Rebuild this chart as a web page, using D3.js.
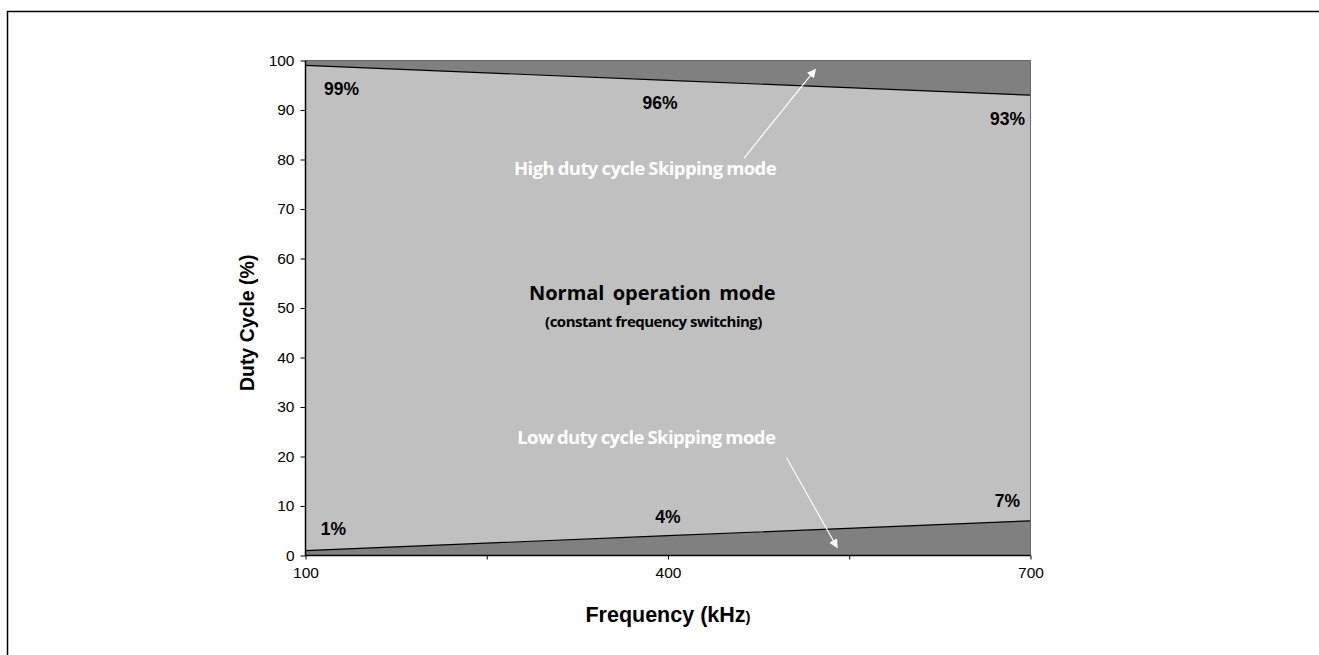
<!DOCTYPE html>
<html>
<head>
<meta charset="utf-8">
<script src="https://cdnjs.cloudflare.com/ajax/libs/d3/7.8.5/d3.min.js"></script>
<style>
body { margin: 0; background: #fff; }
svg { display: block; }
</style>
</head>
<body>
<div id="main"></div>
<script>
var frequency = [100, 400, 700];
var highLimit = [99, 96, 93];
var lowLimit = [1, 4, 7];
var highLabels = ['99%', '96%', '93%'];
var lowLabels = ['1%', '4%', '7%'];
var yTicks = [0, 10, 20, 30, 40, 50, 60, 70, 80, 90, 100];
var xTicks = [100, 250, 400, 550, 700];
var xTickLabels = {100: '100', 400: '400', 700: '700'};

var width = 1319, height = 655;
var margin = {top: 60.5, left: 305.5, right: 288.5, bottom: 99.5};
var pw = width - margin.left - margin.right,
    ph = height - margin.top - margin.bottom;

var svg = d3.select('#main').append('svg')
    .attr('width', width)
    .attr('height', height);

// outer frame (partly off the page)
svg.append('path')
    .attr('d', 'M7.5,' + height + 'V11.5H' + width)
    .attr('fill', 'none')
    .attr('stroke', '#000')
    .attr('stroke-width', 1.5);

var g = svg.append('g')
    .attr('transform', 'translate(' + margin.left + ',' + margin.top + ')');

var x = d3.scaleLinear().domain([100, 700]).range([0, pw]);
var y = d3.scaleLinear().domain([0, 100]).range([ph, 0]);

var rows = frequency.map((f, i) => ({f: f, hi: highLimit[i], lo: lowLimit[i]}));

// dark background = skipping zones
g.append('rect')
    .attr('width', pw)
    .attr('height', ph)
    .attr('fill', '#808080');

var area = d3.area()
    .x(d => x(d.f))
    .y0(d => y(d.lo))
    .y1(d => y(d.hi));
g.append('path')
    .datum(rows)
    .attr('d', area)
    .attr('fill', '#c0c0c0');

var lineHi = d3.line().x(d => x(d.f)).y(d => y(d.hi));
var lineLo = d3.line().x(d => x(d.f)).y(d => y(d.lo));
g.append('path').datum(rows).attr('d', lineHi)
    .attr('fill', 'none').attr('stroke', '#000').attr('stroke-width', 1.2);
g.append('path').datum(rows).attr('d', lineLo)
    .attr('fill', 'none').attr('stroke', '#000').attr('stroke-width', 1.2);

// plot border top/right
g.append('path')
    .attr('d', 'M0,0H' + pw + 'V' + ph)
    .attr('fill', 'none')
    .attr('stroke', '#666')
    .attr('stroke-width', 1);

// axes
var yAxis = g.append('g')
    .call(d3.axisLeft(y).tickValues(yTicks).tickSize(5).tickPadding(6));
var xAxis = g.append('g')
    .attr('transform', 'translate(0,' + ph + ')')
    .call(d3.axisBottom(x).tickValues(xTicks).tickSize(4).tickPadding(7)
        .tickFormat(d => xTickLabels[d] || ''));
[yAxis, xAxis].forEach(a => {
    a.select('.domain').attr('stroke', '#000').attr('stroke-width', 1.5);
    a.selectAll('.tick line').attr('stroke', '#000');
    a.selectAll('.tick text')
        .attr('font-family', 'Liberation Sans, Arial, sans-serif')
        .attr('font-size', 15.5)
        .attr('fill', '#000');
});
xAxis.select('.domain').attr('d', 'M0,0H' + pw);
yAxis.select('.domain').attr('d', 'M0,' + ph + 'V0');

// value labels
var labelFont = 'Liberation Sans, Arial, sans-serif';
var hiOffsets = [{dx: 36, dy: 30}, {dx: -8, dy: 29}, {dx: -23, dy: 30}];
var loOffsets = [{dx: 28, dy: -16}, {dx: 0, dy: -13}, {dx: -23, dy: -14}];
g.selectAll('.hi-label')
    .data(rows)
    .enter().append('text')
    .attr('x', (d, i) => x(d.f) + hiOffsets[i].dx)
    .attr('y', (d, i) => y(d.hi) + hiOffsets[i].dy)
    .attr('text-anchor', 'middle')
    .attr('font-family', labelFont)
    .attr('font-weight', 'bold')
    .attr('font-size', 17.5)
    .text((d, i) => highLabels[i]);
g.selectAll('.lo-label')
    .data(rows)
    .enter().append('text')
    .attr('x', (d, i) => x(d.f) + loOffsets[i].dx)
    .attr('y', (d, i) => y(d.lo) + loOffsets[i].dy)
    .attr('text-anchor', 'middle')
    .attr('font-family', labelFont)
    .attr('font-weight', 'bold')
    .attr('font-size', 17.5)
    .text((d, i) => lowLabels[i]);

// zone annotations
var noteFont = 'Open Sans, Lato, sans-serif';
g.append('text')
    .attr('x', x(387)).attr('y', y(51.6))
    .attr('text-anchor', 'middle')
    .attr('font-family', noteFont)
    .attr('font-weight', 'bold')
    .attr('font-size', 20)
    .attr('word-spacing', 3)
    .attr('fill', '#000')
    .text('Normal operation mode');
g.append('text')
    .attr('x', x(388)).attr('y', y(46.1))
    .attr('text-anchor', 'middle')
    .attr('font-family', noteFont)
    .attr('font-weight', 'bold')
    .attr('font-size', 15)
    .attr('letter-spacing', -0.5)
    .attr('fill', '#000')
    .text('(constant frequency switching)');

g.append('text')
    .attr('x', x(381)).attr('y', y(76.8))
    .attr('text-anchor', 'middle')
    .attr('font-family', noteFont)
    .attr('font-weight', 'bold')
    .attr('font-size', 18.5)
    .attr('letter-spacing', -0.6)
    .attr('word-spacing', -0.5)
    .attr('fill', '#fff')
    .text('High duty cycle Skipping mode');
g.append('text')
    .attr('x', x(382)).attr('y', y(22.5))
    .attr('text-anchor', 'middle')
    .attr('font-family', noteFont)
    .attr('font-weight', 'bold')
    .attr('font-size', 18.5)
    .attr('letter-spacing', -0.6)
    .attr('word-spacing', -0.5)
    .attr('fill', '#fff')
    .text('Low duty cycle Skipping mode');

// arrows
var defs = svg.append('defs');
defs.append('marker')
    .attr('id', 'arrow')
    .attr('viewBox', '0 0 10 10')
    .attr('refX', 9).attr('refY', 5)
    .attr('markerWidth', 9).attr('markerHeight', 9)
    .attr('markerUnits', 'userSpaceOnUse')
    .attr('orient', 'auto')
    .append('path')
    .attr('d', 'M0,0L10,5L0,10z')
    .attr('fill', '#fff');
g.append('line')
    .attr('x1', x(463)).attr('y1', y(80.3))
    .attr('x2', x(522)).attr('y2', y(98.2))
    .attr('stroke', '#fff').attr('stroke-width', 1.2)
    .attr('marker-end', 'url(#arrow)');
g.append('line')
    .attr('x1', x(498)).attr('y1', y(19.8))
    .attr('x2', x(540)).attr('y2', y(1.6))
    .attr('stroke', '#fff').attr('stroke-width', 1.2)
    .attr('marker-end', 'url(#arrow)');

// axis titles
svg.append('text')
    .attr('transform', 'translate(254,' + (margin.top + y(47)) + ') rotate(-90)')
    .attr('text-anchor', 'middle')
    .attr('font-family', labelFont)
    .attr('font-weight', 'bold')
    .attr('font-size', 19.5)
    .text('Duty Cycle (%)');
var xt = svg.append('text')
    .attr('x', margin.left + x(400))
    .attr('y', 622)
    .attr('text-anchor', 'middle')
    .attr('font-family', labelFont)
    .attr('font-weight', 'bold')
    .attr('font-size', 21.5);
xt.append('tspan').text('Frequency (kHz');
xt.append('tspan').attr('font-size', 15).text(')');
</script>
</body>
</html>
